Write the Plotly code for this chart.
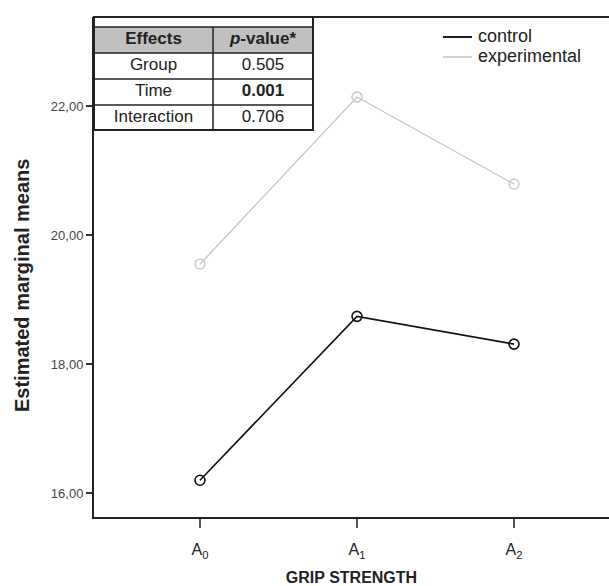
import plotly.graph_objects as go

# ---- data ----
times = ["A<sub>0</sub>", "A<sub>1</sub>", "A<sub>2</sub>"]
series_names = ["control", "experimental"]
control = [16.20, 18.74, 18.31]
experimental = [19.55, 22.14, 20.79]
y_ticks = [16, 18, 20, 22]
y_tick_labels = ["16,00", "18,00", "20,00", "22,00"]
effects = ["Group", "Time", "Interaction"]
p_values = [0.505, 0.001, 0.706]

W, H = 609, 586
L, R, T, B = 94, 0, 17, 69
PW, PH = W - L - R, H - T - B
XR = [-0.675, 2.605]
YR = [15.63, 23.38]

def px2x(px):
    return XR[0] + (px - L) / PW * (XR[1] - XR[0])

def px2y(py):
    return YR[0] + (T + PH - py) / PH * (YR[1] - YR[0])

def dx(px):
    return (px - L) / PW

def dy(py):
    return (T + PH - py) / PH

colors = ["#111111", "#c4c4c4"]
widths = [1.6, 1.3]

fig = go.Figure()
xs = [0, 1, 2]
for vals, c, w in zip([control, experimental], colors, widths):
    fig.add_trace(go.Scatter(x=xs, y=vals, mode="lines+markers", showlegend=False,
                             line=dict(color=c, width=w),
                             marker=dict(symbol="circle-open", size=10, color=c, line=dict(width=w))))

shapes = []
# top frame line
shapes.append(dict(type="line", xref="x domain", yref="y domain", x0=0, x1=1, y0=1, y1=1,
                   line=dict(color="#222222", width=2)))

# table geometry
tx0, tx1, tx2 = 94, 213, 313
rows = [27, 53, 79, 105, 130]
shapes.append(dict(type="rect", xref="x domain", yref="y domain", x0=dx(tx0), x1=dx(tx2),
                   y0=dy(rows[1]), y1=dy(rows[0]), fillcolor="#c0c0c0", line=dict(width=0), layer="below"))
shapes.append(dict(type="rect", xref="x domain", yref="y domain", x0=dx(tx0), x1=dx(tx2),
                   y0=dy(rows[-1]), y1=dy(T), fillcolor="rgba(0,0,0,0)",
                   line=dict(color="#222222", width=2), layer="above"))
for r in rows[:-1]:
    shapes.append(dict(type="line", xref="x domain", yref="y domain", x0=dx(tx0), x1=dx(tx2),
                       y0=dy(r), y1=dy(r), line=dict(color="#222222", width=1.5), layer="above"))
shapes.append(dict(type="line", xref="x domain", yref="y domain", x0=dx(tx1), x1=dx(tx1),
                   y0=dy(rows[0]), y1=dy(rows[-1]), line=dict(color="#222222", width=1.5), layer="above"))

# table text
c1 = px2x((tx0 + tx1) / 2)
c2 = px2x((tx1 + tx2) / 2)
tx, ty, tt = [], [], []
tx += [c1, c2]
ty += [px2y((rows[0] + rows[1]) / 2)] * 2
tt += ["<b>Effects</b>", "<b><i>p</i>-value*</b>"]
for i, (e, p) in enumerate(zip(effects, p_values)):
    yc = px2y((rows[i + 1] + rows[i + 2]) / 2)
    ptxt = f"{p:.3f}"
    if p < 0.05:
        ptxt = f"<b>{ptxt}</b>"
    tx += [c1, c2]
    ty += [yc, yc]
    tt += [e, ptxt]
fig.add_trace(go.Scatter(x=tx, y=ty, text=tt, mode="text", textposition="middle center",
                         showlegend=False, hoverinfo="skip", cliponaxis=False,
                         textfont=dict(family="Liberation Sans, Arial", size=17, color="#222222")))

# manual legend
leg_y = [37, 57]
for name, c, w, ly in zip(series_names, colors, widths, leg_y):
    shapes.append(dict(type="line", xref="x domain", yref="y domain", x0=dx(443), x1=dx(472),
                       y0=dy(ly), y1=dy(ly), line=dict(color=c, width=w + 0.3)))
fig.add_trace(go.Scatter(x=[px2x(478)] * 2, y=[px2y(v) for v in leg_y], text=series_names,
                         mode="text", textposition="middle right", showlegend=False,
                         hoverinfo="skip", cliponaxis=False,
                         textfont=dict(family="Liberation Sans, Arial", size=18, color="#222222")))

# y-axis title as a rotated annotation (positioned like the reference)
annos = [dict(xref="paper", yref="paper", x=(22 - L) / PW, y=dy(286), xanchor="center", yanchor="middle",
              textangle=-90, showarrow=False, text="<b>Estimated marginal means</b>",
              font=dict(family="Liberation Sans, Arial", size=20, color="#222222"))]

fig.update_layout(
    width=W, height=H,
    margin=dict(l=L, r=R, t=T, b=B, pad=0),
    paper_bgcolor="white", plot_bgcolor="white",
    shapes=shapes, annotations=annos, showlegend=False,
    xaxis=dict(range=XR, tickvals=xs, ticktext=times, showgrid=False, zeroline=False,
               showline=True, linecolor="#222222", linewidth=2, ticks="outside", ticklen=9,
               tickcolor="#555555", tickwidth=1.5, automargin=False, ticklabelstandoff=8,
               tickfont=dict(family="Liberation Sans, Arial", size=16, color="#222222"),
               title=dict(text="<b>GRIP STRENGTH</b>", standoff=13,
                          font=dict(family="Liberation Sans, Arial", size=16, color="#222222"))),
    yaxis=dict(range=YR, tickvals=y_ticks, ticktext=y_tick_labels, showgrid=False, zeroline=False,
               showline=True, linecolor="#222222", linewidth=2, ticks="outside", ticklen=6,
               tickcolor="#333333", tickwidth=1.5, automargin=False,
               tickfont=dict(family="Liberation Sans, Arial", size=13, color="#444444")),
)

fig.write_html("out.html", config={"displayModeBar": False},
               post_script="document.body.style.margin='0';document.body.style.overflow='hidden';")
